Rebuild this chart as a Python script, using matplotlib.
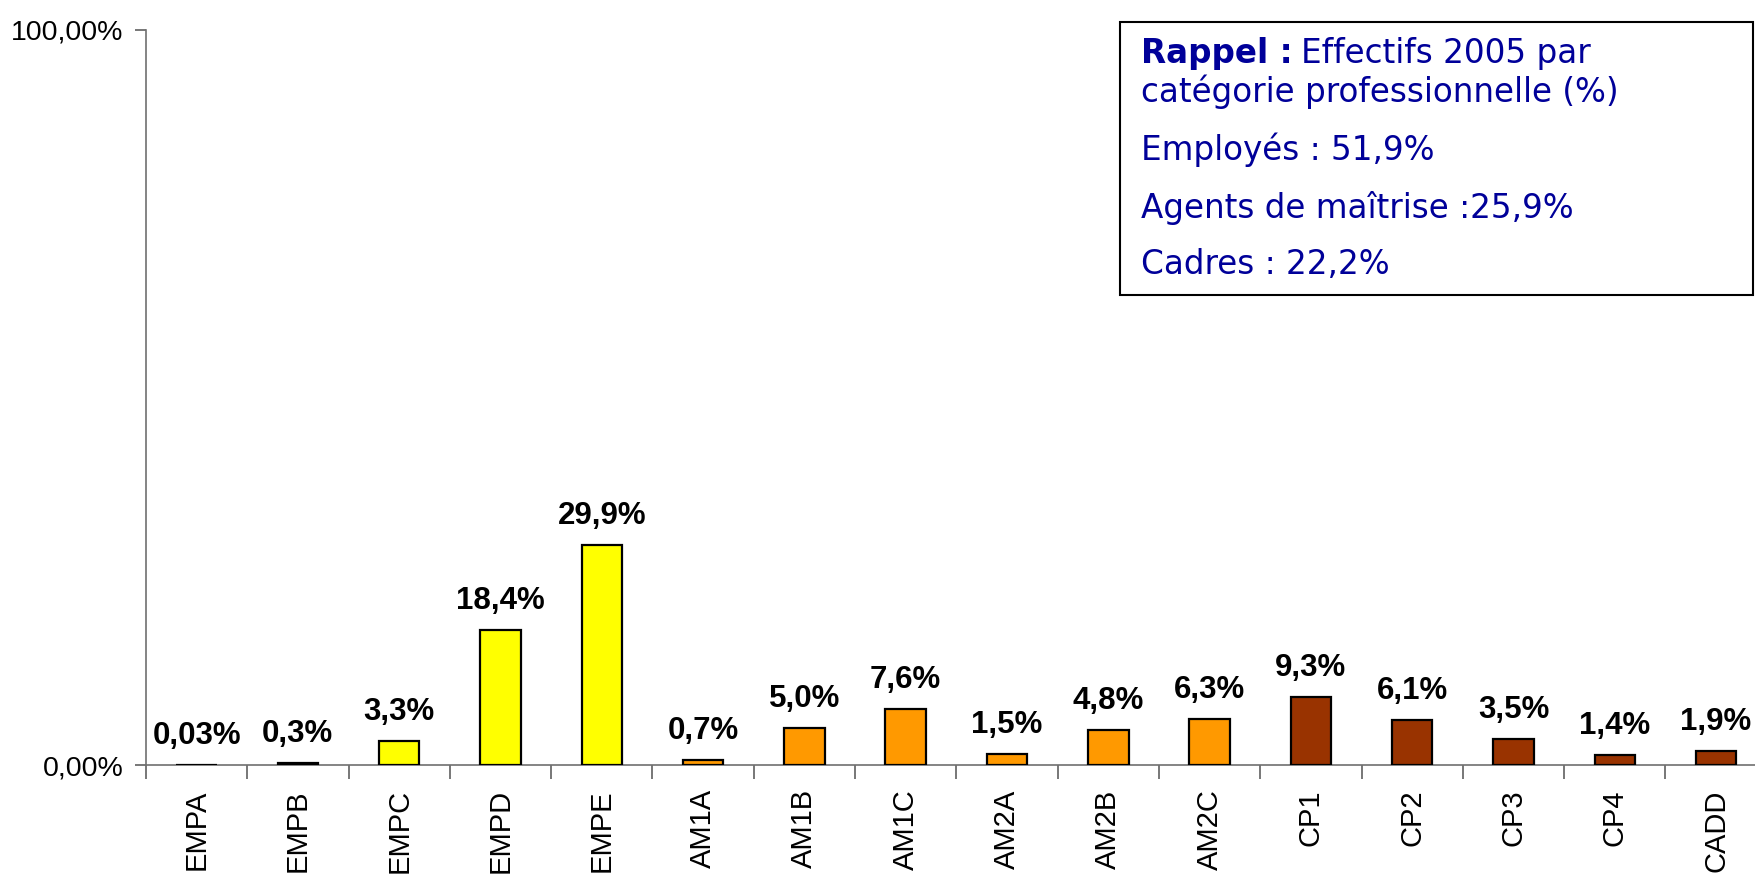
import matplotlib.pyplot as plt
from matplotlib.patches import Rectangle

# data
categories = ['EMPA', 'EMPB', 'EMPC', 'EMPD', 'EMPE', 'AM1A', 'AM1B', 'AM1C',
              'AM2A', 'AM2B', 'AM2C', 'CP1', 'CP2', 'CP3', 'CP4', 'CADD']
values = [0.03, 0.3, 3.3, 18.4, 29.9, 0.7, 5.0, 7.6, 1.5, 4.8, 6.3, 9.3, 6.1, 3.5, 1.4, 1.9]
value_labels = ['0,03%', '0,3%', '3,3%', '18,4%', '29,9%', '0,7%', '5,0%', '7,6%',
                '1,5%', '4,8%', '6,3%', '9,3%', '6,1%', '3,5%', '1,4%', '1,9%']
groups = ['EMP'] * 5 + ['AM'] * 6 + ['CP'] * 5
group_colors = {'EMP': '#FFFF00', 'AM': '#FF9900', 'CP': '#993300'}
ytick_labels = ['0,00%', '100,00%']

plt.rcParams['font.family'] = ['Liberation Sans', 'DejaVu Sans']

fig = plt.figure(figsize=(17.56, 8.74), dpi=100)
ax = fig.add_axes([0.0831, 0.1247, 0.923, 0.841])

x = list(range(len(categories)))
colors = [group_colors[g] for g in groups]
ax.bar(x, values, width=0.4, color=colors, edgecolor='black', linewidth=1.6, zorder=3)

# labels above bars
for i, v in enumerate(values):
    ax.annotate(value_labels[i], (i, v), xytext=(0, 10), textcoords='offset points',
                ha='center', va='bottom', fontsize=22.5, fontweight='bold')

ax.set_xlim(-0.5, len(categories) - 0.5)
ax.set_ylim(0, 100)
ax.set_yticks([0, 100])
ax.set_yticklabels(ytick_labels, fontsize=20.5)

ax.set_xticks(x)
ax.set_xticklabels(categories, rotation=90, fontsize=21)
ax.tick_params(axis='x', which='major', length=0, pad=17.5)
ax.set_xticks([i - 0.5 for i in range(len(categories) + 1)], minor=True)
ax.tick_params(axis='x', which='minor', length=10, color='#606060', width=1.2)
ax.tick_params(axis='y', length=8, color='#606060', width=1.2, pad=8)

for s in ['top', 'right']:
    ax.spines[s].set_visible(False)
for s in ['left', 'bottom']:
    ax.spines[s].set_color('#707070')
    ax.spines[s].set_linewidth(1.2)

# reminder box
box_col = '#000099'
fs = 23.5
fig.patches.append(Rectangle((1120 / 1756, 1 - 295 / 874), 633 / 1756, 273 / 874,
                             transform=fig.transFigure, facecolor='white',
                             edgecolor='black', linewidth=1.5, zorder=5))
tx = 1141 / 1756
t1 = fig.text(tx, 1 - 53 / 874, 'Rappel :', fontsize=fs, fontweight='bold', color=box_col,
              family='DejaVu Sans', va='center', zorder=6)
fig.canvas.draw()
bb = t1.get_window_extent(fig.canvas.get_renderer())
fig.text(bb.x1 / 1756 + 0.005, 1 - 53 / 874, 'Effectifs 2005 par', fontsize=fs, color=box_col,
         family='DejaVu Sans', va='center', zorder=6)
lines = [('catégorie professionnelle (%)', 92), ('Employés : 51,9%', 150),
         ('Agents de maîtrise :25,9%', 208), ('Cadres : 22,2%', 265)]
for txt, yy in lines:
    fig.text(tx, 1 - yy / 874, txt, fontsize=fs, color=box_col, family='DejaVu Sans',
             va='center', zorder=6)

fig.savefig('out.png', dpi=100)
